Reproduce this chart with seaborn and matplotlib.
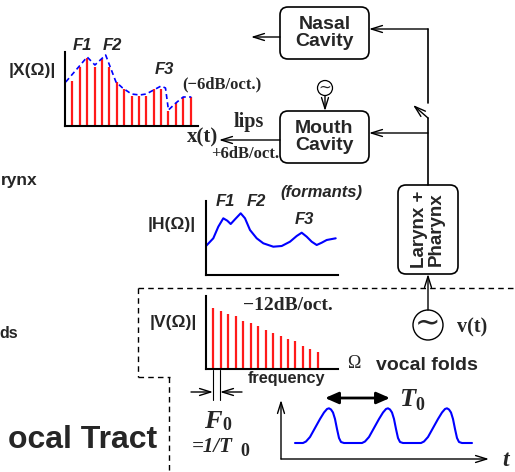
import matplotlib
matplotlib.use("Agg")
import matplotlib.pyplot as plt
import seaborn as sns
from matplotlib.patches import FancyBboxPatch, Circle

# ================================================
#  Datos
# ================================================

# espectro de salida |X(Ω)| (armonicos 1..17)
x_harm = list(range(1, 18))
x_amp = [45, 59, 68, 59, 67, 59, 44, 37, 30, 30, 30, 37, 37, 15, 23, 29, 29]
# envolvente punteada
env_f = [0.1, 3, 4.05, 5.5, 6.9, 7.8, 9, 10.1, 11, 12, 13, 13.6, 14, 15, 16, 17.1]
env_a = [44, 69, 61, 71, 44, 38, 32, 31, 32, 36, 40, 38, 16, 23, 29, 29]

# respuesta del tracto |H(Ω)|
h_f = [0, 7.3, 12.3, 17.3, 21.3, 24.7, 29, 34.7, 39, 44, 50.7, 57.3, 67.3, 75.7,
       84, 90.7, 95.7, 100.7, 105.7, 110.7, 115.7, 120.7, 129.7]
h_a = [29, 36.7, 48.3, 56.7, 54.3, 51, 55.7, 61.7, 56.7, 45, 36.7, 31.7, 28.3, 29,
       33.3, 39, 42.3, 38.3, 33.3, 30, 32.3, 35, 36.7]

# espectro de la fuente |V(Ω)| (armonicos 1..15)
v_harm = list(range(1, 16))
v_amp = [61, 58.3, 55.3, 52.7, 47.7, 46, 42.7, 39.3, 36, 33.3, 30.3, 27.7, 23.3, 20, 17]

# pulsos glotales v(t)
wave_t = [14, 22, 25, 29, 34, 39, 43, 46, 48, 50, 52, 54, 56, 58, 60, 63,
          79, 81, 84, 88, 93, 98, 102, 105, 107, 109, 111, 113, 115, 117, 119, 122,
          138, 140, 143, 147, 152, 157, 161, 164, 166, 168, 170, 172, 174, 176, 178, 181, 191]
wave_y = [16, 16, 17.5, 22, 31, 40, 46.5, 50, 50.7, 49.5, 46.5, 40, 30, 21, 17, 16,
          16, 16, 17.5, 22, 31, 40, 46.5, 50, 50.7, 49.5, 46.5, 40, 30, 21, 17, 16,
          16, 16, 17.5, 22, 31, 40, 46.5, 50, 50.7, 49.5, 46.5, 40, 30, 21, 17, 16, 16]

# ================================================
#  Configuracion general
# ================================================
sns.set_style("white")
SANS = ['Liberation Sans', 'DejaVu Sans']
SERIF = ['Liberation Serif', 'DejaVu Serif']
plt.rcParams['font.family'] = SANS

W, H = 515, 472
fig = plt.figure(figsize=(W / 100, H / 100), dpi=100)
ax0 = fig.add_axes([0, 0, 1, 1])
ax0.set_xlim(0, W)
ax0.set_ylim(H, 0)
ax0.axis('off')

RED = '#ff1a1a'
BLUE = '#0000ff'


def sub_axes(left, bottom, width, height):
    a = fig.add_axes([left / W, (H - bottom) / H, width / W, height / H])
    a.patch.set_alpha(0)
    for s in ['top', 'right']:
        a.spines[s].set_visible(False)
    for s in ['left', 'bottom']:
        a.spines[s].set_linewidth(1.5)
        a.spines[s].set_color('black')
    a.set_xticks([])
    a.set_yticks([])
    return a


def txt(x, y, s, size, fam=SANS, weight='bold', style='normal', **kw):
    ax0.text(x, y, s, fontsize=size, family=fam, fontweight=weight, fontstyle=style,
             ha=kw.pop('ha', 'center'), va=kw.pop('va', 'center'), **kw)


def arrow(x1, y1, x2, y2, style="->,head_length=0.8,head_width=0.25", lw=1.0):
    ax0.annotate("", xy=(x2, y2), xytext=(x1, y1),
                 arrowprops=dict(arrowstyle=style, lw=lw, color='black',
                                 shrinkA=0, shrinkB=0))


def box(x, y, w, h, label, rot=0, size=14):
    ax0.add_patch(FancyBboxPatch((x, y), w, h, boxstyle="round,pad=0,rounding_size=8",
                                 fc='white', ec='black', lw=1.2))
    txt(x + w / 2, y + h / 2, label, size, rotation=rot, linespacing=1.0,
        multialignment='center')


# ================================================
#  Espectro |X(Ω)|
# ================================================
axX = sub_axes(65, 126, 133, 74)
axX.vlines(x_harm, 0, x_amp, color=RED, lw=1.6)
sns.lineplot(x=env_f, y=env_a, ax=axX, color=BLUE, lw=1.2, sort=False,
             estimator=None, linestyle=(0, (3, 2)))
axX.set_xlim(0, 18)
axX.set_ylim(0, 74)

txt(32, 70, "|X(Ω)|", 12.5)
txt(82, 46, "F1", 12, style='italic')
txt(112, 46, "F2", 12, style='italic')
txt(164, 69, "F3", 12, style='italic')
txt(222, 84, "(−6dB/oct.)", 12, fam=SERIF)

# ================================================
#  Respuesta |H(Ω)|
# ================================================
axH = sub_axes(206, 275, 132, 74)
sns.lineplot(x=h_f, y=h_a, ax=axH, color=BLUE, lw=1.5, sort=False, estimator=None)
axH.set_xlim(0, 132)
axH.set_ylim(0, 74)

txt(172, 225, "|H(Ω)|", 12.5)
txt(225, 202, "F1", 12, style='italic')
txt(256, 202, "F2", 12, style='italic')
txt(304, 219, "F3", 12, style='italic')
txt(321, 193, "(formants)", 12, style='italic')

# ================================================
#  Espectro fuente |V(Ω)|
# ================================================
axV = sub_axes(206, 369, 132, 72.7)
axV.vlines(v_harm, 0, v_amp, color=RED, lw=1.6)
axV.set_xlim(0, 17.7)
axV.set_ylim(0, 72.7)

txt(173, 323, "|V(Ω)|", 12.5)
txt(288, 305, "−12dB/oct.", 14, fam=SERIF)
txt(354, 364, "Ω", 13, fam=SERIF, weight='normal')
txt(427, 365, "vocal folds", 14)
txt(286, 379, "frequency", 11.7)

# marcas de F0
ax0.plot([213, 213], [370, 400], color='black', lw=0.8)
ax0.plot([220, 220], [370, 400], color='black', lw=0.8)
arrow(191, 392, 213, 392)
arrow(242, 392, 220, 392)
txt(213, 421, "F", 19, fam=SERIF, style='italic')
txt(227, 426, "0", 13, fam=SERIF)
txt(212, 447, "=1/T", 15, fam=SERIF, style='italic')
txt(245, 451, "0", 13, fam=SERIF)

# ================================================
#  Pulsos glotales
# ================================================
axT = sub_axes(281, 459, 206, 57)
axT.spines['left'].set_visible(False)
axT.spines['bottom'].set_visible(False)
sns.lineplot(x=wave_t, y=wave_y, ax=axT, color=BLUE, lw=1.5, sort=False, estimator=None)
axT.set_xlim(0, 206)
axT.set_ylim(0, 57)
arrow(281, 459, 489, 459, lw=1.0)
arrow(281, 459, 281, 400, lw=1.0)
arrow(325, 398, 390, 398, style="<|-|>,head_length=0.8,head_width=0.35", lw=2)
txt(407, 399, "T", 19, fam=SERIF, style='italic')
txt(420, 405, "0", 13, fam=SERIF)
txt(506, 461, "t", 17, fam=SERIF, style='italic')

# ================================================
#  Diagrama de bloques
# ================================================
box(280, 7, 89, 52, "Nasal\nCavity")
box(280, 111, 89, 52, "Mouth\nCavity")
box(398, 185, 60, 89, "Larynx +\nPharynx", rot=90, size=13.5)

arrow(280, 37, 251, 37)
arrow(280, 140, 219, 140)
arrow(428, 29, 369, 29)
ax0.plot([428, 428], [29, 103], color='black', lw=1.2)
arrow(428, 133, 369, 133)
ax0.plot([428, 428], [118, 185], color='black', lw=1.2)
arrow(428, 118, 413, 105)

txt(249, 122, "lips", 14.5, fam=SERIF)
txt(203, 137, "x(t)", 15, fam=SERIF)
txt(245, 154, "+6dB/oct.", 12, fam=SERIF)

# fuente de ruido sobre la boca
ax0.add_patch(Circle((325, 88), 7.5, fc='white', ec='black', lw=0.9))
txt(325, 87, "~", 11, fam=['DejaVu Sans'], weight='normal')
arrow(325, 96, 325, 111)

# fuente v(t)
ax0.add_patch(Circle((428, 325), 15, fc='white', ec='black', lw=1.0))
txt(428, 324, "∼", 22, fam=['DejaVu Sans'], weight='normal')
arrow(428, 310, 428, 274)
txt(472, 327, "v(t)", 14.5, fam=SERIF)

# linea punteada de separacion
dash = (0, (4, 3))
ax0.plot([138, 515], [288, 288], color='black', lw=1.0, linestyle=dash)
ax0.plot([138, 138], [288, 377], color='black', lw=1.0, linestyle=dash)
ax0.plot([138, 170], [377, 377], color='black', lw=1.0, linestyle=dash)
ax0.plot([169, 169], [377, 472], color='black', lw=1.0, linestyle=dash)

# restos de textos en el borde izquierdo
txt(37, 181, "rynx", 12.5, ha='right')
txt(18, 333, "ds", 11.5, ha='right')
txt(157, 440, "ocal Tract", 23, ha='right')

fig.savefig("out.png", dpi=100)
